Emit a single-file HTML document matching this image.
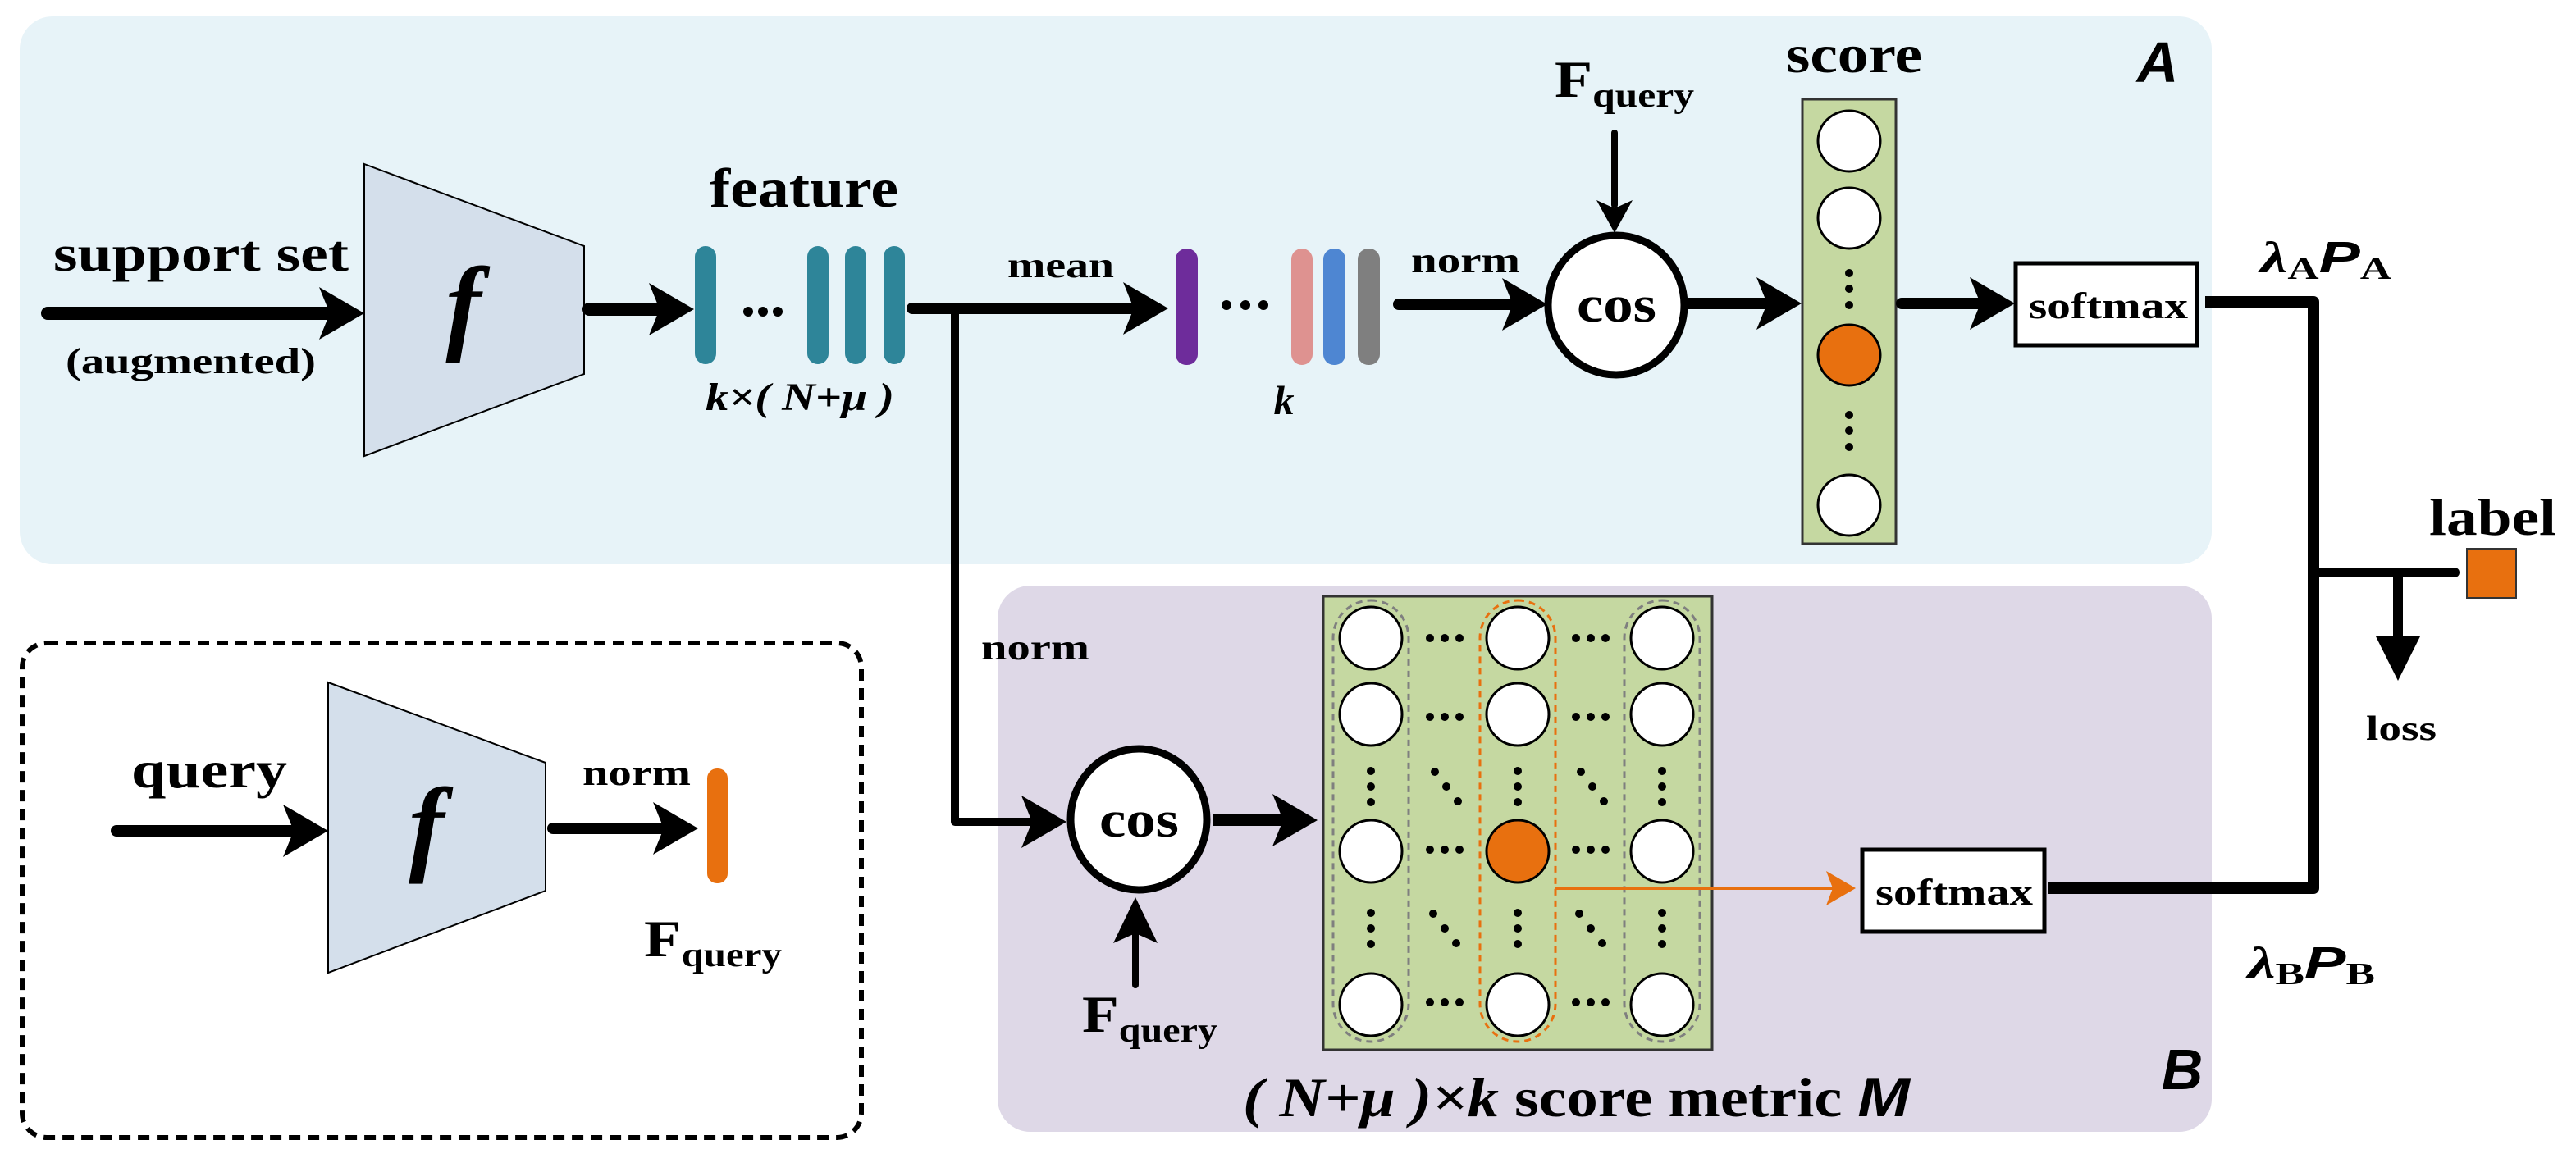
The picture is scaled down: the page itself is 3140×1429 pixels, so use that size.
<!DOCTYPE html>
<html><head><meta charset="utf-8"><style>html,body{margin:0;padding:0;background:#fff}svg{display:block}text{font-family:"Liberation Serif",serif;font-weight:bold;fill:#000}.s{font-family:"Liberation Sans",sans-serif;font-style:italic;font-weight:bold}.i{font-style:italic}</style></head><body>
<svg width="3140" height="1429" viewBox="0 0 3140 1429" xmlns="http://www.w3.org/2000/svg">
<defs>
<g id="hd"><circle cx="-18" cy="0" r="5"/><circle cx="0" cy="0" r="5"/><circle cx="18" cy="0" r="5"/></g>
<g id="vd"><circle cx="0" cy="-19" r="5"/><circle cx="0" cy="0" r="5"/><circle cx="0" cy="19" r="5"/></g>
<g id="dd"><circle cx="-14" cy="-18" r="5"/><circle cx="0" cy="0" r="5"/><circle cx="14" cy="18" r="5"/></g>
<polygon id="ar" points="0,0 -55,-32 -42,0 -55,32" fill="#000"/>
<polygon id="ars" points="0,0 -40,-22 -30,0 -40,22" fill="#000"/>
</defs>
<!-- panels -->
<rect x="24" y="20" width="2672" height="668" rx="40" fill="#e7f3f8"/>
<rect x="1216" y="714" width="1480" height="666" rx="40" fill="#ded8e7"/>
<rect x="27" y="784" width="1023" height="603" rx="30" fill="none" stroke="#000" stroke-width="6" stroke-dasharray="14,9"/>

<!-- support set -->
<text x="65" y="330" font-size="62" textLength="360" lengthAdjust="spacingAndGlyphs">support set</text>
<text x="80" y="455" font-size="44" textLength="305" lengthAdjust="spacingAndGlyphs">(augmented)</text>
<line x1="58" y1="382" x2="400" y2="382" stroke="#000" stroke-width="16" stroke-linecap="round"/>
<use href="#ar" x="444" y="382"/>
<polygon points="444,200 712,300 712,456 444,556" fill="#d4dfeb" stroke="#000" stroke-width="2"/>
<text x="565" y="415" font-size="130" class="i" font-family="Liberation Serif" text-anchor="middle">f</text>
<line x1="718" y1="377" x2="810" y2="377" stroke="#000" stroke-width="16" stroke-linecap="round"/>
<use href="#ar" x="846" y="377"/>
<g fill="#2e8599">
<rect x="847" y="300" width="26" height="144" rx="13"/>
<rect x="984" y="300" width="26" height="144" rx="13"/>
<rect x="1030" y="300" width="26" height="144" rx="13"/>
<rect x="1077" y="300" width="26" height="144" rx="13"/>
</g>
<g fill="#000"><circle cx="912" cy="380" r="6"/><circle cx="930" cy="380" r="6"/><circle cx="948" cy="380" r="6"/></g>
<text x="865" y="252" font-size="68" textLength="230" lengthAdjust="spacingAndGlyphs">feature</text>
<text x="860" y="500" font-size="48" class="i" textLength="230" lengthAdjust="spacingAndGlyphs">k×( N+μ )</text>

<!-- mean -->
<line x1="1112" y1="376" x2="1390" y2="376" stroke="#000" stroke-width="14" stroke-linecap="round"/>
<use href="#ar" x="1424" y="376"/>
<text x="1228" y="338" font-size="44" textLength="130" lengthAdjust="spacingAndGlyphs">mean</text>
<rect x="1433" y="303" width="27" height="142" rx="13" fill="#6e2c9b"/>
<g fill="#000"><circle cx="1495" cy="372" r="6"/><circle cx="1518" cy="372" r="6"/><circle cx="1540" cy="372" r="6"/></g>
<rect x="1574" y="303" width="26" height="142" rx="13" fill="#de9290"/>
<rect x="1613" y="303" width="27" height="142" rx="13" fill="#4e86d2"/>
<rect x="1655" y="303" width="27" height="142" rx="13" fill="#7f7f7f"/>
<text x="1565" y="505" font-size="50" class="i" text-anchor="middle">k</text>

<!-- norm -> cos A -->
<line x1="1705" y1="371" x2="1850" y2="371" stroke="#000" stroke-width="14" stroke-linecap="round"/>
<use href="#ar" x="1886" y="371"/>
<text x="1720" y="332" font-size="44" textLength="133" lengthAdjust="spacingAndGlyphs">norm</text>
<ellipse cx="1970" cy="372" rx="83" ry="85" fill="#fff" stroke="#000" stroke-width="9"/>
<text x="1922" y="392" font-size="62" textLength="97" lengthAdjust="spacingAndGlyphs">cos</text>
<line x1="1968" y1="162" x2="1968" y2="250" stroke="#000" stroke-width="8" stroke-linecap="round"/>
<use href="#ars" transform="translate(1968,284) rotate(90)"/>
<text x="1895" y="118" font-size="64" textLength="170" lengthAdjust="spacingAndGlyphs">F<tspan font-size="42" dy="12">query</tspan></text>
<line x1="2058" y1="370" x2="2160" y2="370" stroke="#000" stroke-width="14"/>
<use href="#ar" x="2196" y="370"/>

<!-- score column -->
<text x="2177" y="88" font-size="66" textLength="166" lengthAdjust="spacingAndGlyphs">score</text>
<rect x="2197" y="121" width="114" height="542" fill="#c5d8a1" stroke="#333" stroke-width="3"/>
<g stroke="#000" stroke-width="3" fill="#fff">
<ellipse cx="2254" cy="172" rx="38" ry="37"/><ellipse cx="2254" cy="266" rx="38" ry="37"/>
<ellipse cx="2254" cy="433" rx="38" ry="37" fill="#e8700f"/><ellipse cx="2254" cy="616" rx="38" ry="37"/>
</g>
<g fill="#000"><circle cx="2254" cy="333" r="5"/><circle cx="2254" cy="352" r="5"/><circle cx="2254" cy="372" r="5"/>
<circle cx="2254" cy="506" r="5"/><circle cx="2254" cy="525" r="5"/><circle cx="2254" cy="545" r="5"/></g>
<text x="2630" y="100" font-size="70" class="s" text-anchor="middle">A</text>
<line x1="2318" y1="370" x2="2420" y2="370" stroke="#000" stroke-width="14" stroke-linecap="round"/>
<use href="#ar" x="2456" y="370"/>
<rect x="2457" y="321" width="221" height="100" fill="#fff" stroke="#000" stroke-width="5"/>
<text x="2473" y="388" font-size="46" textLength="194" lengthAdjust="spacingAndGlyphs">softmax</text>
<polyline points="2688,368 2820,368 2820,1083 2496,1083" fill="none" stroke="#000" stroke-width="14" stroke-linejoin="round"/>
<text x="2755" y="332" font-size="54" textLength="160" lengthAdjust="spacingAndGlyphs"><tspan class="i">λ</tspan><tspan font-size="38" dy="8">A</tspan><tspan class="s" dy="-8">P</tspan><tspan font-size="38" dy="8">A</tspan></text>
<line x1="2820" y1="698" x2="2992" y2="698" stroke="#000" stroke-width="12" stroke-linecap="round"/>
<rect x="3007" y="669" width="60" height="60" fill="#e8700f" stroke="#333" stroke-width="2"/>
<text x="2961" y="652" font-size="64" textLength="155" lengthAdjust="spacingAndGlyphs">label</text>
<line x1="2923" y1="698" x2="2923" y2="790" stroke="#000" stroke-width="12"/>
<polygon points="2923,830 2896,776 2950,776" fill="#000"/>
<text x="2884" y="902" font-size="42" textLength="86" lengthAdjust="spacingAndGlyphs">loss</text>
<text x="2740" y="1192" font-size="54" textLength="155" lengthAdjust="spacingAndGlyphs"><tspan class="i">λ</tspan><tspan font-size="38" dy="8">B</tspan><tspan class="s" dy="-8">P</tspan><tspan font-size="38" dy="8">B</tspan></text>

<!-- B branch -->
<polyline points="1164,376 1164,1002 1270,1002" fill="none" stroke="#000" stroke-width="10" stroke-linejoin="round"/>
<use href="#ar" x="1300" y="1002"/>
<text x="1196" y="804" font-size="44" textLength="132" lengthAdjust="spacingAndGlyphs">norm</text>
<ellipse cx="1388" cy="999" rx="83" ry="86" fill="#fff" stroke="#000" stroke-width="9"/>
<text x="1340" y="1020" font-size="62" textLength="97" lengthAdjust="spacingAndGlyphs">cos</text>
<line x1="1384" y1="1201" x2="1384" y2="1120" stroke="#000" stroke-width="8" stroke-linecap="round"/>
<polygon points="1384,1094 1357,1150 1384,1138 1411,1150" fill="#000"/>
<text x="1319" y="1258" font-size="64" textLength="165" lengthAdjust="spacingAndGlyphs">F<tspan font-size="42" dy="12">query</tspan></text>
<line x1="1478" y1="1000" x2="1570" y2="1000" stroke="#000" stroke-width="14"/>
<use href="#ar" x="1606" y="1000"/>

<!-- matrix -->
<rect x="1613" y="727" width="474" height="553" fill="#c5d8a1" stroke="#333" stroke-width="3"/>
<g fill="none" stroke-width="3" stroke-dasharray="8,6">
<rect x="1625" y="732" width="92" height="538" rx="46" stroke="#7f7f7f"/>
<rect x="1804" y="732" width="92" height="538" rx="46" stroke="#e8700f"/>
<rect x="1980" y="732" width="92" height="538" rx="46" stroke="#7f7f7f"/>
</g>
<g stroke="#000" stroke-width="3" fill="#fff">
<ellipse cx="1671" cy="778" rx="38" ry="38"/><ellipse cx="1850" cy="778" rx="38" ry="38"/><ellipse cx="2026" cy="778" rx="38" ry="38"/>
<ellipse cx="1671" cy="871" rx="38" ry="38"/><ellipse cx="1850" cy="871" rx="38" ry="38"/><ellipse cx="2026" cy="871" rx="38" ry="38"/>
<ellipse cx="1671" cy="1038" rx="38" ry="38"/><ellipse cx="1850" cy="1038" rx="38" ry="38" fill="#e8700f"/><ellipse cx="2026" cy="1038" rx="38" ry="38"/>
<ellipse cx="1671" cy="1225" rx="38" ry="38"/><ellipse cx="1850" cy="1225" rx="38" ry="38"/><ellipse cx="2026" cy="1225" rx="38" ry="38"/>
</g>
<g fill="#000">
<use href="#hd" x="1761" y="778"/><use href="#hd" x="1939" y="778"/>
<use href="#hd" x="1761" y="874"/><use href="#hd" x="1939" y="874"/>
<use href="#hd" x="1761" y="1036"/><use href="#hd" x="1939" y="1036"/>
<use href="#hd" x="1761" y="1222"/><use href="#hd" x="1939" y="1222"/>
<use href="#vd" x="1671" y="959"/><use href="#vd" x="1850" y="959"/><use href="#vd" x="2026" y="959"/>
<use href="#vd" x="1671" y="1132"/><use href="#vd" x="1850" y="1132"/><use href="#vd" x="2026" y="1132"/>
<use href="#dd" x="1763" y="959"/><use href="#dd" x="1941" y="959"/>
<use href="#dd" x="1761" y="1132"/><use href="#dd" x="1939" y="1132"/>
</g>
<line x1="1895" y1="1083" x2="2240" y2="1083" stroke="#e8700f" stroke-width="4"/>
<polygon points="2262,1083 2226,1062 2234,1083 2226,1104" fill="#e8700f"/>
<rect x="2270" y="1036" width="222" height="100" fill="#fff" stroke="#000" stroke-width="5"/>
<text x="2286" y="1103" font-size="46" textLength="192" lengthAdjust="spacingAndGlyphs">softmax</text>
<text x="1515" y="1361" font-size="68" textLength="813" lengthAdjust="spacingAndGlyphs"><tspan class="i">( N+μ )×k</tspan> score metric <tspan class="s">M</tspan></text>
<text x="2660" y="1328" font-size="70" class="s" text-anchor="middle">B</text>

<!-- query -->
<text x="160" y="960" font-size="64" textLength="190" lengthAdjust="spacingAndGlyphs">query</text>
<line x1="142" y1="1013" x2="365" y2="1013" stroke="#000" stroke-width="14" stroke-linecap="round"/>
<use href="#ar" x="400" y="1013"/>
<polygon points="400,832 665,930 665,1086 400,1186" fill="#d4dfeb" stroke="#000" stroke-width="2"/>
<text x="520" y="1050" font-size="130" class="i" text-anchor="middle">f</text>
<line x1="674" y1="1010" x2="815" y2="1010" stroke="#000" stroke-width="14" stroke-linecap="round"/>
<use href="#ar" x="851" y="1010"/>
<text x="710" y="957" font-size="44" textLength="132" lengthAdjust="spacingAndGlyphs">norm</text>
<rect x="862" y="937" width="25" height="140" rx="12" fill="#e8700f"/>
<text x="785" y="1166" font-size="64" textLength="168" lengthAdjust="spacingAndGlyphs">F<tspan font-size="42" dy="12">query</tspan></text>
</svg>
</body></html>
